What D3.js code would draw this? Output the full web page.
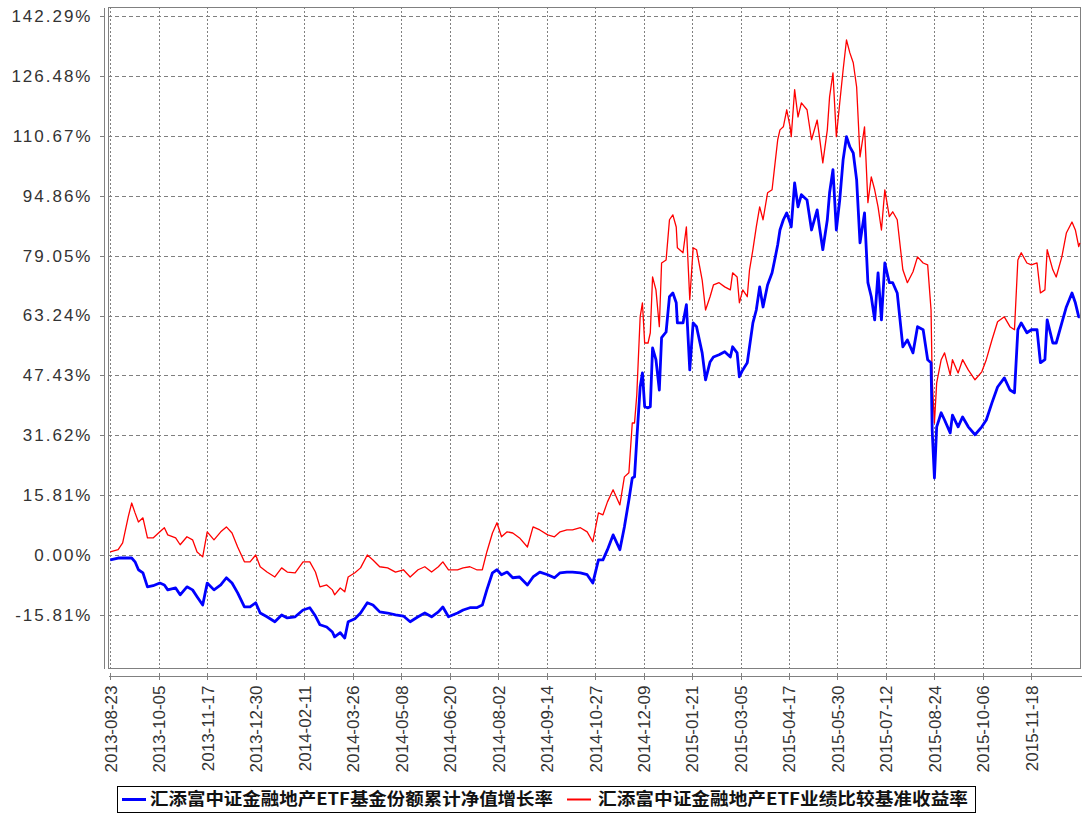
<!DOCTYPE html>
<html lang="zh">
  <head>
    <meta charset="UTF-8" />
    <title>汇添富中证金融地产ETF 累计净值增长率与业绩比较基准收益率</title>
    <style>
      body {
        margin: 0;
        background: #fff;
      }
      svg {
        display: block;
      }
      .grid line {
        stroke: #808080;
        stroke-width: 1;
        shape-rendering: crispEdges;
      }
      .axis path,
      .axis line {
        stroke: #808080;
        shape-rendering: crispEdges;
      }
      .axis text {
        fill: #333;
      }
      .legend-text {
        font-family: "Noto Sans CJK SC", sans-serif;
        font-size: 17px;
        font-weight: bold;
        fill: #111;
      }
    </style>
  </head>
  <body>
    <svg width="1082" height="816"></svg>

    <script src="https://d3js.org/d3.v7.min.js"></script>
    <script>
      // dates (roughly weekly, plus turning points)
      const dates = [
        "2013-08-23", "2013-08-30", "2013-09-03", "2013-09-08", "2013-09-11", "2013-09-14", "2013-09-17", "2013-09-21", "2013-09-25", "2013-09-30",
        "2013-10-06", "2013-10-10", "2013-10-13", "2013-10-20", "2013-10-24", "2013-10-30", "2013-11-04", "2013-11-08", "2013-11-13", "2013-11-17",
        "2013-11-23", "2013-11-29", "2013-12-04", "2013-12-09", "2013-12-14", "2013-12-20", "2013-12-25", "2013-12-30", "2014-01-03", "2014-01-09",
        "2014-01-16", "2014-01-22", "2014-01-27", "2014-02-03", "2014-02-10", "2014-02-16", "2014-02-21", "2014-02-25", "2014-03-03", "2014-03-08",
        "2014-03-10", "2014-03-15", "2014-03-19", "2014-03-22", "2014-03-28", "2014-04-02", "2014-04-08", "2014-04-13", "2014-04-19", "2014-04-26",
        "2014-05-03", "2014-05-10", "2014-05-16", "2014-05-23", "2014-05-29", "2014-06-04", "2014-06-10", "2014-06-14", "2014-06-19", "2014-06-27",
        "2014-07-02", "2014-07-08", "2014-07-14", "2014-07-19", "2014-07-23", "2014-07-28", "2014-08-01", "2014-08-05", "2014-08-10", "2014-08-15",
        "2014-08-21", "2014-08-28", "2014-09-02", "2014-09-08", "2014-09-15", "2014-09-21", "2014-09-26", "2014-10-02", "2014-10-07", "2014-10-14",
        "2014-10-20", "2014-10-25", "2014-10-30", "2014-11-03", "2014-11-07", "2014-11-12", "2014-11-18", "2014-11-22", "2014-11-26", "2014-11-29",
        "2014-12-01", "2014-12-03", "2014-12-06", "2014-12-08", "2014-12-10", "2014-12-13", "2014-12-15", "2014-12-17", "2014-12-20", "2014-12-23",
        "2014-12-25", "2014-12-29", "2015-01-01", "2015-01-04", "2015-01-07", "2015-01-08", "2015-01-13", "2015-01-16", "2015-01-19", "2015-01-22",
        "2015-01-25", "2015-01-30", "2015-02-02", "2015-02-06", "2015-02-09", "2015-02-14", "2015-02-19", "2015-02-24", "2015-02-26", "2015-03-02",
        "2015-03-04", "2015-03-07", "2015-03-11", "2015-03-13", "2015-03-16", "2015-03-19", "2015-03-22", "2015-03-25", "2015-03-29", "2015-04-02",
        "2015-04-04", "2015-04-07", "2015-04-09", "2015-04-12", "2015-04-15", "2015-04-18", "2015-04-19", "2015-04-22", "2015-04-25", "2015-04-28",
        "2015-05-03", "2015-05-07", "2015-05-12", "2015-05-14", "2015-05-17", "2015-05-21", "2015-05-23", "2015-05-26", "2015-05-29", "2015-06-01",
        "2015-06-04", "2015-06-07", "2015-06-10", "2015-06-13", "2015-06-16", "2015-06-19", "2015-06-23", "2015-06-26", "2015-06-29", "2015-07-02",
        "2015-07-05", "2015-07-08", "2015-07-11", "2015-07-15", "2015-07-18", "2015-07-22", "2015-07-27", "2015-07-31", "2015-08-05", "2015-08-09",
        "2015-08-14", "2015-08-18", "2015-08-21", "2015-08-22", "2015-08-24", "2015-08-26", "2015-08-30", "2015-09-02", "2015-09-07", "2015-09-09",
        "2015-09-14", "2015-09-18", "2015-09-23", "2015-09-29", "2015-10-05", "2015-10-09", "2015-10-14", "2015-10-19", "2015-10-25", "2015-10-30",
        "2015-11-03", "2015-11-06", "2015-11-09", "2015-11-14", "2015-11-18", "2015-11-23", "2015-11-26", "2015-11-30", "2015-12-02", "2015-12-07",
        "2015-12-10", "2015-12-15", "2015-12-19", "2015-12-24", "2015-12-27", "2015-12-30", "2015-12-31"
      ];

      // 基金份额累计净值增长率 (%)
      const navGrowth = [
        -1.2, -0.7, -0.7, -0.7, -0.7, -1.7, -3.8, -4.6, -8.3, -8.0,
        -7.3, -7.8, -9.1, -8.6, -10.4, -8.3, -9.1, -10.9, -13.1, -7.3,
        -9.1, -7.8, -5.9, -7.3, -9.9, -13.6, -13.6, -12.5, -15.2, -16.2,
        -17.5, -15.7, -16.5, -16.2, -14.4, -13.8, -16.0, -18.3, -18.9, -20.2,
        -21.5, -20.4, -21.8, -17.5, -16.7, -15.2, -12.5, -13.1, -14.9, -15.2,
        -15.7, -16.0, -17.5, -16.2, -15.2, -16.2, -14.9, -13.6, -16.2, -15.2,
        -14.4, -13.8, -13.8, -13.1, -9.1, -4.6, -3.8, -5.1, -4.4, -5.9,
        -5.7, -7.8, -5.7, -4.4, -5.1, -5.9, -4.6, -4.4, -4.4, -4.6,
        -5.1, -7.3, -1.2, -1.2, 1.5, 5.4, 1.5, 7.5, 14.6, 20.4,
        20.7, 30.5, 44.4, 48.1, 39.2, 38.9, 39.2, 54.7, 51.6, 43.6,
        57.4, 58.9, 68.2, 69.2, 66.6, 61.3, 61.3, 66.1, 48.9, 61.3,
        60.3, 53.4, 46.3, 51.0, 52.3, 52.9, 53.7, 52.3, 55.0, 53.4,
        47.1, 48.9, 50.8, 55.0, 61.3, 64.7, 70.8, 65.5, 71.3, 74.5,
        77.4, 81.9, 85.8, 88.5, 90.3, 87.7, 86.6, 98.2, 91.9, 95.1,
        93.7, 85.8, 91.1, 86.6, 80.6, 88.5, 95.6, 101.7, 85.8, 93.7,
        104.3, 110.4, 107.7, 106.1, 99.0, 82.4, 90.3, 71.9, 68.2, 62.1,
        74.5, 62.1, 77.1, 71.9, 71.9, 69.2, 55.0, 56.8, 53.4, 60.3,
        59.5, 51.6, 50.8, 33.1, 20.4, 33.9, 37.6, 35.7, 32.3, 37.0,
        33.9, 36.5, 33.9, 31.8, 33.9, 35.7, 40.2, 44.4, 46.8, 43.6,
        42.9, 59.5, 61.3, 58.7, 59.5, 59.5, 50.8, 51.6, 62.1, 56.0,
        56.0, 61.3, 65.5, 69.2, 66.6, 62.9, 62.9
      ];

      // 业绩比较基准收益率 (%)
      const benchmark = [
        0.9, 1.5, 3.3, 10.2, 13.8, 11.2, 8.8, 9.9, 4.6, 4.6,
        6.2, 7.3, 5.4, 4.6, 2.8, 4.9, 4.1, 0.9, -0.4, 6.2,
        4.1, 6.2, 7.5, 5.9, 2.2, -1.7, -1.7, 0.1, -3.0, -4.4,
        -5.7, -3.3, -4.4, -4.6, -1.7, -1.7, -4.4, -8.3, -7.8, -9.1,
        -10.4, -8.6, -9.6, -5.7, -4.6, -3.3, 0.1, -1.2, -3.0, -3.3,
        -4.4, -3.8, -5.7, -3.8, -3.0, -4.4, -3.0, -1.7, -3.8, -3.8,
        -3.3, -3.0, -3.8, -3.8, 0.9, 5.9, 8.6, 4.9, 6.2, 5.9,
        4.6, 2.2, 7.5, 6.7, 5.4, 4.9, 6.2, 6.7, 6.7, 7.3,
        6.2, 3.6, 11.2, 10.7, 14.1, 17.3, 13.3, 20.7, 21.8, 34.9,
        34.9, 42.3, 62.9, 66.6, 56.0, 56.0, 58.7, 73.4, 70.0, 60.3,
        77.1, 77.9, 88.5, 89.8, 86.6, 81.1, 79.8, 86.6, 67.4, 81.1,
        80.6, 72.6, 64.7, 68.2, 71.3, 71.9, 70.8, 70.0, 74.5, 73.4,
        66.6, 70.0, 68.2, 75.3, 80.6, 86.6, 91.9, 88.5, 95.6, 96.4,
        101.7, 109.6, 112.2, 113.0, 117.5, 113.0, 110.4, 122.8, 115.6, 119.3,
        117.5, 109.6, 114.8, 110.4, 103.5, 112.2, 120.9, 127.2, 110.4, 119.3,
        128.0, 135.9, 132.5, 129.9, 123.5, 105.1, 113.0, 93.0, 99.8, 96.4,
        91.9, 85.8, 96.4, 89.3, 90.6, 88.5, 75.3, 71.9, 74.8, 78.7,
        77.1, 76.6, 64.7, 46.3, 34.9, 45.5, 51.6, 53.4, 47.6, 51.6,
        48.1, 51.6, 48.9, 46.3, 48.4, 51.6, 56.8, 61.6, 62.9, 60.3,
        59.5, 77.9, 79.8, 77.1, 76.6, 77.1, 69.2, 70.0, 80.6, 75.3,
        73.4, 78.7, 85.0, 87.9, 85.8, 81.4, 82.4
      ];

      // y 轴刻度
      const yTicks = [-15.81, 0, 15.81, 31.62, 47.43, 63.24, 79.05, 94.86, 110.67, 126.48, 142.29];
      const yTickLabels = ["-15.81%", "0.00%", "15.81%", "31.62%", "47.43%", "63.24%", "79.05%", "94.86%", "110.67%", "126.48%", "142.29%"];

      // x 轴刻度
      const xTickLabels = [
        "2013-08-23", "2013-10-05", "2013-11-17", "2013-12-30", "2014-02-11", "2014-03-26", "2014-05-08",
        "2014-06-20", "2014-08-02", "2014-09-14", "2014-10-27", "2014-12-09", "2015-01-21", "2015-03-05",
        "2015-04-17", "2015-05-30", "2015-07-12", "2015-08-24", "2015-10-06", "2015-11-18"
      ];

      const seriesNames = ["汇添富中证金融地产ETF基金份额累计净值增长率", "汇添富中证金融地产ETF业绩比较基准收益率"];
      const seriesColors = ["#0000ff", "#ff0000"];

      const svg = d3.select("svg");
      const parse = d3.timeParse("%Y-%m-%d");
      const plot = { left: 108, right: 1081, top: 7, bottom: 668 };

      const x = d3
        .scaleTime()
        .domain([parse("2013-08-21"), parse("2016-01-01")])
        .range([plot.left, plot.right]);

      const y = d3.scaleLinear().domain([-29.7, 144.6]).range([plot.bottom, plot.top]);

      const rows = dates.map((d, i) => ({ date: parse(d), nav: navGrowth[i], bench: benchmark[i] }));
      const xTickDates = xTickLabels.map(parse);

      // 网格线
      const grid = svg.append("g").attr("class", "grid");
      grid
        .selectAll("line.h")
        .data(yTicks)
        .join("line")
        .attr("class", "h")
        .attr("x1", plot.left)
        .attr("x2", plot.right)
        .attr("y1", (d) => Math.round(y(d)) + 0.5)
        .attr("y2", (d) => Math.round(y(d)) + 0.5)
        .attr("stroke-dasharray", "4,3");
      grid
        .selectAll("line.v")
        .data(xTickDates)
        .join("line")
        .attr("class", "v")
        .attr("x1", (d) => Math.round(x(d)) + 0.5)
        .attr("x2", (d) => Math.round(x(d)) + 0.5)
        .attr("y1", plot.top)
        .attr("y2", plot.bottom)
        .attr("stroke-dasharray", "2,2");

      // 绘图区边框
      svg
        .append("rect")
        .attr("x", plot.left + 0.5)
        .attr("y", plot.top + 0.5)
        .attr("width", plot.right - plot.left - 1)
        .attr("height", plot.bottom - plot.top)
        .attr("fill", "none")
        .attr("stroke", "#808080")
        .attr("shape-rendering", "crispEdges");

      // y 轴 (d3.axis 会覆盖字体, 所以在 call 之后再设置)
      const yAxis = svg
        .append("g")
        .attr("class", "axis")
        .attr("transform", "translate(103.5,0)")
        .call(
          d3
            .axisLeft(y)
            .tickValues(yTicks)
            .tickFormat((d, i) => yTickLabels[i])
            .tickSize(4)
            .tickSizeOuter(0)
            .tickPadding(7)
        )
        .attr("font-family", "'Liberation Sans', Arial, sans-serif")
        .attr("font-size", 17);
      yAxis.selectAll("text").attr("letter-spacing", "2px");

      // x 轴
      const xAxis = svg
        .append("g")
        .attr("class", "axis")
        .attr("transform", "translate(0,675.5)")
        .call(
          d3
            .axisBottom(x)
            .tickValues(xTickDates)
            .tickFormat((d, i) => xTickLabels[i])
            .tickSize(4)
            .tickSizeOuter(0)
        )
        .attr("font-family", "'Liberation Sans', Arial, sans-serif")
        .attr("font-size", 17);
      xAxis.selectAll(".tick line").attr("y1", -3);
      xAxis
        .selectAll("text")
        .attr("transform", "rotate(-90)")
        .attr("text-anchor", "end")
        .attr("x", -10)
        .attr("y", 0)
        .attr("dy", "0.35em");

      // 折线
      svg
        .append("clipPath")
        .attr("id", "clip")
        .append("rect")
        .attr("x", plot.left)
        .attr("y", plot.top)
        .attr("width", plot.right - plot.left)
        .attr("height", plot.bottom - plot.top);

      const lines = svg.append("g").attr("clip-path", "url(#clip)");

      const benchLine = d3
        .line()
        .x((d) => x(d.date))
        .y((d) => y(d.bench));
      const navLine = d3
        .line()
        .x((d) => x(d.date))
        .y((d) => y(d.nav));

      lines
        .append("path")
        .datum(rows)
        .attr("fill", "none")
        .attr("stroke", seriesColors[1])
        .attr("stroke-width", 1.3)
        .attr("stroke-linejoin", "round")
        .attr("d", benchLine);

      lines
        .append("path")
        .datum(rows)
        .attr("fill", "none")
        .attr("stroke", seriesColors[0])
        .attr("stroke-width", 2.8)
        .attr("stroke-linejoin", "round")
        .attr("d", navLine);

      // 图例
      const legend = svg.append("g");
      legend
        .append("rect")
        .attr("x", 117.5)
        .attr("y", 786.5)
        .attr("width", 858)
        .attr("height", 26)
        .attr("fill", "#fff")
        .attr("stroke", "#000")
        .attr("shape-rendering", "crispEdges");

      const legendItems = [
        { lineX: 122, textX: 150, width: 403 },
        { lineX: 567, textX: 598, width: 370 },
      ];

      legendItems.forEach((item, i) => {
        legend
          .append("line")
          .attr("x1", item.lineX)
          .attr("x2", item.lineX + 24)
          .attr("y1", 799.5)
          .attr("y2", 799.5)
          .attr("stroke", seriesColors[i])
          .attr("stroke-width", i === 0 ? 3 : 2);
        legend
          .append("text")
          .attr("class", "legend-text")
          .attr("x", item.textX)
          .attr("y", 805)
          .attr("textLength", item.width)
          .attr("lengthAdjust", "spacingAndGlyphs")
          .text(seriesNames[i]);
      });
    </script>
  </body>
</html>
